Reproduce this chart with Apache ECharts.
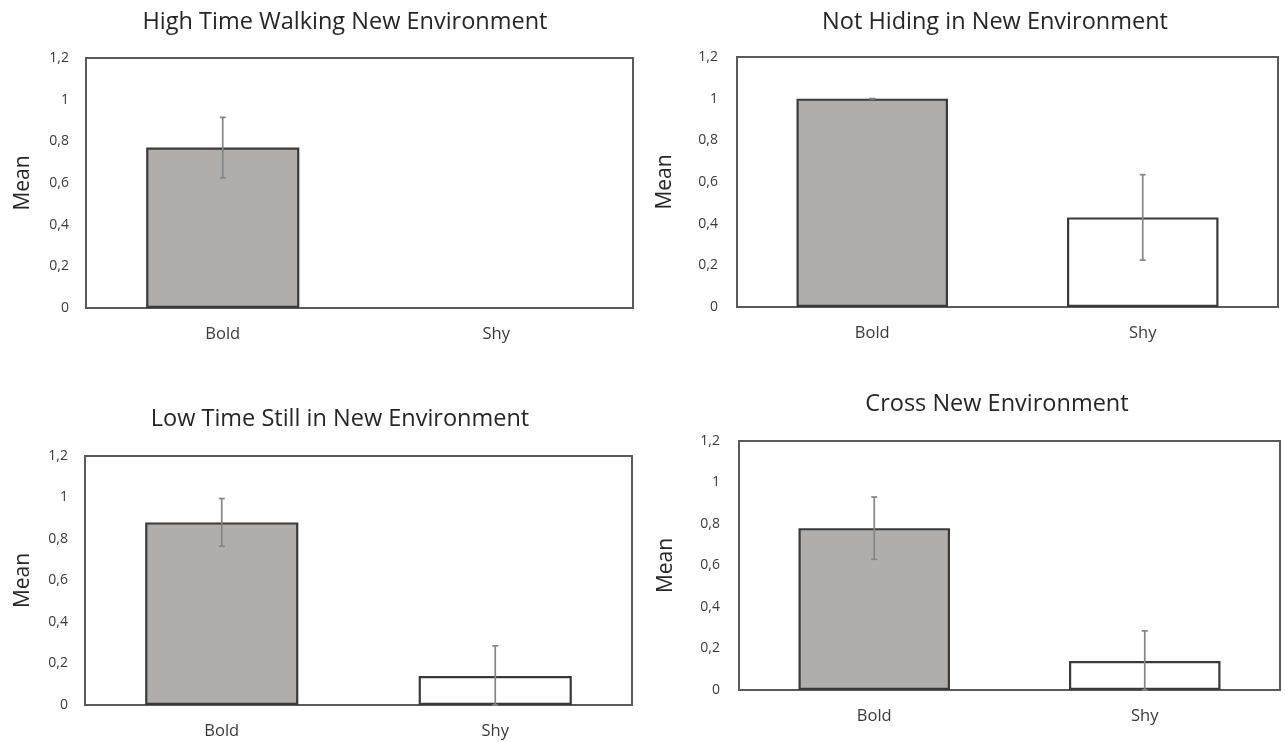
<!DOCTYPE html>
<html>
<head>
<meta charset="utf-8">
<script src="https://cdn.jsdelivr.net/npm/echarts@6/dist/echarts.min.js"></script>
<style>
html,body{margin:0;padding:0;background:#fff;}
#chart{width:1285px;height:742px;}
</style>
</head>
<body>
<div id="chart"></div>
<script>
// ---- data ----
var categories = ['Bold', 'Shy'];
var yTicks = [0, 0.2, 0.4, 0.6, 0.8, 1, 1.2];
var panelTitles = [
  'High Time Walking New Environment',
  'Not Hiding in New Environment',
  'Low Time Still in New Environment',
  'Cross New Environment'
];
var walkingMeans = [0.77, 0];
var walkingErrors = [0.145, null];
var hidingMeans = [1.0, 0.43];
var hidingErrors = [0, 0.205];
var stillMeans = [0.88, 0.14];
var stillErrors = [0.115, 0.145];
var crossMeans = [0.78, 0.14];
var crossErrors = [0.15, 0.145];

var panelMeans = [walkingMeans, hidingMeans, stillMeans, crossMeans];
var panelErrors = [walkingErrors, hidingErrors, stillErrors, crossErrors];

// ---- layout ----
var grids = [
  {left: 86, top: 58, width: 547, height: 250},
  {left: 737, top: 57, width: 541, height: 250},
  {left: 85, top: 456, width: 547, height: 249},
  {left: 739, top: 441, width: 541, height: 249}
];
var titlePos = [
  {x: 340, y: 5},
  {x: 990, y: 5},
  {x: 335, y: 402},
  {x: 992, y: 387}
];
var nameGaps = [52, 61, 51, 62];
var labelMargins = [17, 19, 17, 19];
var barColors = ['#b0adab', '#ffffff'];
var FONT = '"Open Sans", Lato, sans-serif';

var option = {
  animation: false,
  backgroundColor: '#fff',
  title: [], grid: [], xAxis: [], yAxis: [], series: []
};

for (var i = 0; i < 4; i++) {
  option.title.push({
    text: panelTitles[i], left: titlePos[i].x, top: titlePos[i].y, textAlign: 'center',
    textStyle: {fontFamily: FONT, fontSize: 23.5, fontWeight: 'normal', color: '#262626'}
  });
  option.grid.push({
    left: grids[i].left, top: grids[i].top, width: grids[i].width, height: grids[i].height,
    show: true, borderColor: '#5a5a5a', borderWidth: 2, backgroundColor: '#fff'
  });
  option.xAxis.push({
    type: 'category', gridIndex: i, data: categories,
    axisLine: {show: false}, axisTick: {show: false},
    axisLabel: {fontFamily: FONT, fontSize: 16.5, color: '#3a3a3a', margin: 18}
  });
  option.yAxis.push({
    type: 'value', gridIndex: i, min: yTicks[0], max: yTicks[yTicks.length - 1], interval: 0.2,
    name: 'Mean', nameLocation: 'middle', nameGap: nameGaps[i],
    nameTextStyle: {fontFamily: FONT, fontSize: 21, color: '#262626'},
    axisLine: {show: false}, axisTick: {show: false}, splitLine: {show: false},
    axisLabel: {
      fontFamily: FONT, fontSize: 14, color: '#3a3a3a', margin: labelMargins[i],
      formatter: function (v) { return String(+v.toFixed(1)).replace('.', ','); }
    }
  });
  (function (idx) {
    var means = panelMeans[idx];
    var errs = panelErrors[idx];
    option.series.push({
      type: 'bar', xAxisIndex: idx, yAxisIndex: idx, barWidth: '56%',
      data: means.map(function (m, k) {
        return {
          value: m,
          itemStyle: {
            color: barColors[k], borderColor: '#3a3a3a', borderWidth: m > 0 ? 2.2 : 0
          }
        };
      }),
      z: 2
    });
    var errData = [];
    means.forEach(function (m, k) {
      if (errs[k] !== null) errData.push([k, Math.max(0, m - errs[k]), m + errs[k]]);
    });
    option.series.push({
      type: 'custom', xAxisIndex: idx, yAxisIndex: idx, z: 5,
      data: errData,
      renderItem: function (params, api) {
        var hi = api.coord([api.value(0), api.value(2)]);
        var lo = api.coord([api.value(0), api.value(1)]);
        var cap = 3;
        var st = {stroke: '#858585', lineWidth: 1.7};
        return {
          type: 'group',
          children: [
            {type: 'line', shape: {x1: hi[0], y1: hi[1], x2: lo[0], y2: lo[1]}, style: st},
            {type: 'line', shape: {x1: hi[0] - cap, y1: hi[1], x2: hi[0] + cap, y2: hi[1]}, style: st},
            {type: 'line', shape: {x1: lo[0] - cap, y1: lo[1], x2: lo[0] + cap, y2: lo[1]}, style: st}
          ]
        };
      }
    });
  })(i);
}

var chart = echarts.init(document.getElementById('chart'), null, {renderer: 'canvas'});
chart.setOption(option);
</script>
</body>
</html>
